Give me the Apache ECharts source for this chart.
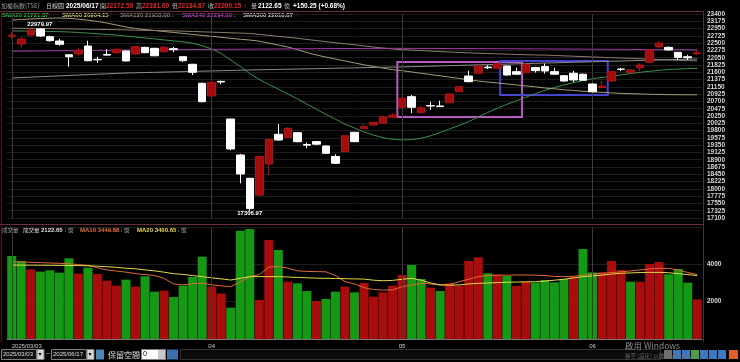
<!DOCTYPE html>
<html><head><meta charset="utf-8">
<script src="https://cdn.jsdelivr.net/npm/echarts@6/dist/echarts.min.js"></script>
<style>html,body{margin:0;padding:0;background:#000;}#c{width:740px;height:362px;}</style>
</head><body><div id="c"></div>
<script>
// ---------- DATA ----------
const dates = [
 '2025/03/03','2025/03/04','2025/03/05','2025/03/06','2025/03/07','2025/03/10','2025/03/11','2025/03/12','2025/03/13','2025/03/14',
 '2025/03/17','2025/03/18','2025/03/19','2025/03/20','2025/03/21','2025/03/24','2025/03/25','2025/03/26','2025/03/27','2025/03/28','2025/03/31',
 '2025/04/01','2025/04/02','2025/04/07','2025/04/08','2025/04/09','2025/04/10','2025/04/11','2025/04/14','2025/04/15','2025/04/16',
 '2025/04/17','2025/04/18','2025/04/21','2025/04/22','2025/04/23','2025/04/24','2025/04/25','2025/04/28','2025/04/29','2025/04/30',
 '2025/05/02','2025/05/05','2025/05/06','2025/05/07','2025/05/08','2025/05/09','2025/05/12','2025/05/13','2025/05/14','2025/05/15',
 '2025/05/16','2025/05/19','2025/05/20','2025/05/21','2025/05/22','2025/05/23','2025/05/26','2025/05/27','2025/05/28','2025/05/29',
 '2025/06/02','2025/06/03','2025/06/04','2025/06/05','2025/06/06','2025/06/09','2025/06/10','2025/06/11','2025/06/12','2025/06/13',
 '2025/06/16','2025/06/17'];
const opens = [22720,22474,22752,22937,22700,22566,22140,22165,22412,22000,22150,22205,22257,22165,22370,22340,22235,22330,22082,21847,21260,
 20868,21320,20157,19046,18326,17808,18768,19685,19593,19735,19370,19460,19324,19000,19148,19747,19860,19972,20025,20210,
 20519,20847,20352,20570,20560,20660,21000,21485,21570,21760,21725,21795,21620,21588,21745,21775,21620,21495,21570,21540,
 21238,21130,21330,21700,21600,21740,21910,22390,22370,22215,22080,22172.59];
const closes = [22745,22628,22906,22721,22576,22464,22081,22288,21958,21985,22130,22310,21949,22390,22205,22110,22370,22300,21958,21600,20692,
 21291,21300,19232,18460,17391,19000,19528,19509,19870,19457,19350,19380,19098,18790,19642,19457,19920,20055,20229,20280,
 20797,20519,20505,20560,20540,20930,21155,21310,21795,21740,21860,21516,21540,21850,21650,21640,21540,21330,21362,21355,
 21000,21170,21620,21690,21670,21825,22290,22500,22290,22060,22049.90,22200.15];
const lows = [22650,22372,22720,22700,22540,22420,21773,22110,21940,21896,22120,22180,21940,22150,22190,22100,22200,22220,21920,21516,20670,
 20850,21230,19190,18172,17306.97,17790,18428,19480,19580,19440,19255,19350,19080,18770,19130,19440,19850,19960,20010,20200,
 20500,20335,20340,20440,20530,20650,20990,21290,21560,21700,21710,21500,21530,21580,21590,21560,21530,21310,21290,21350,
 20980,21100,21320,21640,21560,21640,21900,22350,22270,21980,21980,22134.87];
const highs = [22830,22680,22979.97,22960,22730,22640,22150,22340,22575,22080,22310,22340,22290,22420,22390,22360,22420,22380,22090,21860,21280,
 21300,21340,20160,19080,18340,19010,19540,20003,19900,19760,19430,19470,19340,19068,19660,19760,20000,20070,20240,20330,
 20810,20900,20560,20690,20720,20950,21170,21650,21810,21820,21880,21810,21740,21860,21760,21870,21740,21510,21640,21560,
 21250,21330,21630,21730,21700,21880,22300,22560,22400,22230,22140,22331.69];
const volumes = [4446,4178,3732,3607,3679,3554,4321,3500,3821,3482,3125,2857,3179,2804,3357,2536,2589,2250,2857,3321,4411,
 2804,2429,1679,5802,5893,2089,5304,4768,3071,2982,2571,2036,2143,2536,2804,2500,3000,2268,2500,2857,
 3429,3964,3214,2750,2571,2982,2857,4179,4375,3518,3464,3375,2839,3071,3018,3161,3036,3214,3339,4821,
 3571,3571,4179,3696,3071,3071,4018,4125,3464,3750,3018,2122.65];
// 1 = up day (red volume bar), -1 = down day (green volume bar)
const volDir = [-1,-1,1,-1,-1,-1,-1,1,-1,1,1,1,-1,1,-1,-1,1,-1,-1,-1,-1,
 1,1,-1,-1,-1,1,1,-1,1,-1,-1,1,-1,-1,1,-1,1,1,1,1,
 1,-1,-1,1,-1,1,1,1,1,-1,1,-1,1,1,-1,-1,-1,-1,1,-1,
 -1,1,1,1,-1,1,1,1,-1,-1,-1,1];
const sma20 = [22875,22875,22870,22865,22860,22855,22845,22830,22810,22790,22770,22750,22720,22690,22660,22630,22600,22570,22540,22500,22420,
 22320,22180,21980,21780,21560,21380,21220,21080,20930,20780,20620,20460,20300,20150,20000,19880,19760,19660,19580,19530,
 19510,19520,19560,19640,19740,19850,19960,20080,20220,20360,20490,20610,20720,20830,20940,21040,21130,21210,21280,21340,
 21400,21440,21480,21520,21560,21600,21630,21660,21685,21700,21712,21721.37];
const sma60 = [23215,23230,23245,23260,23270,23276,23265,23240,23210,23170,23120,23060,23000,22950,22920,22890,22860,22830,22800,22770,22740,
 22710,22680,22650,22620,22597,22560,22500,22440,22380,22300,22210,22134,22070,22010,21950,21890,21830,21780,21730,21680,
 21650,21610,21570,21530,21490,21450,21410,21370,21330,21300,21270,21240,21210,21180,21150,21115,21090,21060,21040,21015,
 20995,20980,20965,20950,20940,20930,20920,20915,20910,20907,20905,20904.15];
const sma120 = [22960,22958,22955,22952,22950,22945,22940,22935,22930,22925,22920,22915,22910,22900,22895,22890,22885,22880,22870,22860,22850,
 22840,22830,22820,22810,22800,22770,22740,22710,22680,22650,22615,22580,22545,22510,22480,22450,22415,22380,22350,22320,
 22300,22285,22270,22255,22240,22225,22212,22200,22190,22180,22170,22160,22150,22142,22135,22130,22120,22108,22097,22085,
 22074,22062,22051,22040,22030,22018,22006,21994,21982,21970,21960,21953.88];
const sma240 = [22250,22253,22256,22259,22262,22265,22268,22271,22274,22277,22280,22283,22285,22288,22290,22293,22295,22298,22300,22303,22305,
 22307,22309,22311,22313,22315,22317,22319,22321,22323,22325,22327,22329,22331,22333,22334,22335,22336,22337,22338,22340,
 22339,22338,22337,22336,22335,22334,22333,22332,22331,22330,22329,22327,22326,22324,22323,22321,22320,22318,22317,22315,
 22313,22311,22309,22307,22305,22303,22301,22300,22298,22297,22295,22294.06];
const sma300 = [21424,21437,21450,21463,21476,21489,21502,21515,21527,21540,21552,21565,21578,21585,21592,21599,21606,21613,21620,21628,21635,
 21642,21649,21656,21663,21671,21677,21683,21689,21695,21701,21707,21713,21719,21725,21731,21737,21743,21749,21755,21760,
 21765,21773,21781,21789,21797,21805,21813,21821,21829,21837,21845,21853,21861,21869,21877,21885,21893,21901,21909,21917,
 21925,21933,21941,21949,21957,21965,21973,21981,21989,21997,22004,22010.87];
const volMa10 = [4140,4130,4110,4090,4070,4055,4030,3990,3940,3820,3700,3640,3580,3500,3450,3400,3250,2950,2900,2960,2990,
 2900,2850,2800,3050,3340,3450,3850,3880,3800,3650,3620,3610,3600,3400,3080,2950,2750,2650,2620,2630,
 2800,2890,2980,2950,2890,2920,3070,3200,3340,3400,3420,3420,3430,3430,3420,3400,3350,3340,3360,3420,
 3480,3520,3560,3600,3650,3700,3750,3790,3780,3700,3560,3449.88];
const volMa20 = [3960,3958,3955,3952,3948,3944,3938,3930,3920,3900,3870,3840,3790,3760,3700,3650,3580,3500,3460,3400,3340,
 3280,3220,3160,3250,3340,3340,3340,3340,3320,3300,3280,3260,3250,3240,3230,3220,3210,3150,3120,3140,
 3200,3250,3150,3000,2900,2880,2900,2950,2980,3000,3020,3040,3050,3060,3070,3100,3150,3200,3270,3340,
 3380,3420,3480,3520,3540,3560,3570,3570,3550,3500,3450,3400.65];
const priceMin = 17100, priceMax = 23400, priceStep = 225;
const volMax = 6000, volStep = 2000;
const monthStarts = [0, 21, 41, 61];
// annotation rectangles: [fromIndex, toIndex, lowPrice, highPrice]
const boxMagenta = [40.5, 53.6, 20220, 21920];
const boxBlue = [51.3, 62.6, 20900, 21950];

// ---------- CHART ----------
const chart = echarts.init(document.getElementById('c'), null, {renderer: 'canvas'});
const n = dates.length, last = n - 1;
const candleData = dates.map((d, i) => [opens[i], closes[i], lows[i], highs[i]]);
const volData = volumes.map((v, i) => ({value: v, itemStyle: {color: volDir[i] > 0 ? '#a80c0c' : '#159915'}}));
const FONT = '"Liberation Sans", "DejaVu Sans", sans-serif';
const CJK = '"Noto Sans CJK TC", "Liberation Sans", sans-serif';
const chg = closes[last] - closes[last - 1];
const pct = chg / closes[last - 1] * 100;
const f2 = v => v.toFixed(2);

function textEl(x, y, text, fill, size, weight, font) {
  return {type: 'text', x: x, y: y, silent: true,
    style: {text: text, fill: fill, font: (weight || 'normal') + ' ' + (size || 7) + 'px ' + (font || FONT), textVerticalAlign: 'middle'}};
}
function lineEl(x1, y1, x2, y2, color) {
  return {type: 'line', silent: true, shape: {x1: x1, y1: y1, x2: x2, y2: y2}, style: {stroke: color, lineWidth: 1}};
}
function rectEl(x, y, w, h, fill, stroke) {
  return {type: 'rect', silent: true, shape: {x: x, y: y, width: w, height: h}, style: {fill: fill, stroke: stroke || null, lineWidth: 1}};
}

const red = '#e8242a', green = '#33c040', up = '↑', dn = '↓';
const graphics = [
  lineEl(0, 11.5, 704, 11.5, '#6b2c3c'),
  lineEl(0, 224.5, 704, 224.5, '#6b2c3c'),
  lineEl(1.5, 11, 1.5, 342, '#5c1414'),
  lineEl(703.5, 11, 703.5, 342, '#3a3a3a'),
  // header row 1
  textEl(1, 6, '加權指數(TSE)', '#9a9a9a', 6, 'normal', CJK),
  textEl(46, 6, '日線圖', '#cfcfcf', 6, 'normal', CJK),
  textEl(66, 6, dates[last], '#ffffff', 6.5, 'bold'),
  textEl(100, 6, '開', '#bbbbbb', 6, 'normal', CJK),
  textEl(106, 6, f2(opens[last]), red, 6.5, 'bold'),
  textEl(136, 6, '高', '#bbbbbb', 6, 'normal', CJK),
  textEl(142, 6, f2(highs[last]), red, 6.5, 'bold'),
  textEl(172, 6, '低', '#bbbbbb', 6, 'normal', CJK),
  textEl(178, 6, f2(lows[last]), red, 6.5, 'bold'),
  textEl(208, 6, '收', '#bbbbbb', 6, 'normal', CJK),
  textEl(214, 6, f2(closes[last]), red, 6.5, 'bold'),
  textEl(244, 6, up, red, 6.5, 'bold'),
  textEl(251, 6, '量', '#bbbbbb', 6, 'normal', CJK),
  textEl(258, 6, f2(volumes[last]), '#ffffff', 6.5, 'bold'),
  textEl(284, 6, '億', '#bbbbbb', 6, 'normal', CJK),
  textEl(293, 6, (chg >= 0 ? '+' : '') + f2(chg) + ' (' + (pct >= 0 ? '+' : '') + pct.toFixed(2) + '%)', '#ffffff', 6.5, 'bold'),
  // header row 2 (moving averages)
  textEl(2, 15.5, 'SMA20 ' + f2(sma20[last]), green, 6, 'bold'),
  textEl(48, 15.5, up, red, 6, 'bold'),
  textEl(62, 15.5, 'SMA60 ' + f2(sma60[last]), '#e2d878', 6, 'bold'),
  textEl(109, 15.5, up, red, 6, 'bold'),
  textEl(120, 15.5, 'SMA120 ' + f2(sma120[last]), '#a88c7c', 6, 'bold'),
  textEl(171, 15.5, dn, green, 6, 'bold'),
  textEl(182, 15.5, 'SMA240 ' + f2(sma240[last]), '#d642d6', 6, 'bold'),
  textEl(233, 15.5, dn, green, 6, 'bold'),
  textEl(243, 15.5, 'SMA300 ' + f2(sma300[last]), '#d0d0d0', 6, 'bold'),
  textEl(295, 15.5, up, red, 6, 'bold'),
  // volume header
  textEl(2, 230, '成交量', '#a0a0a0', 5.5, 'normal', CJK),
  textEl(23, 230, '成交量', '#dddddd', 5.5, 'normal', CJK),
  textEl(41, 230, f2(volumes[last]), '#e0e0e0', 6, 'bold'),
  textEl(64, 230, dn, green, 6, 'bold'),
  textEl(68, 230, '億', '#aaaaaa', 5.5, 'normal', CJK),
  textEl(80, 230, 'MA10 ' + f2(volMa10[last]), '#e86e36', 6, 'bold'),
  textEl(120, 230, dn, green, 6, 'bold'),
  textEl(124, 230, '億', '#aaaaaa', 5.5, 'normal', CJK),
  textEl(137, 230, 'MA20 ' + f2(volMa20[last]), '#ecdc4c', 6, 'bold'),
  textEl(177, 230, dn, green, 6, 'bold'),
  textEl(181, 230, '億', '#aaaaaa', 5.5, 'normal', CJK),
  // bottom toolbar
  rectEl(1.5, 349.5, 35, 10, '#101010', '#808080'),
  textEl(3, 354.5, dates[0], '#dddddd', 6),
  rectEl(37, 349.5, 7, 10, '#d8d8d8', '#808080'),
  textEl(38.5, 354.5, '▾', '#000000', 6),
  textEl(46, 354.5, '~', '#cccccc', 7),
  rectEl(51.5, 349.5, 35, 10, '#101010', '#808080'),
  textEl(53, 354.5, dates[last], '#dddddd', 6),
  rectEl(87, 349.5, 7, 10, '#d8d8d8', '#808080'),
  textEl(88.5, 354.5, '▾', '#000000', 6),
  rectEl(96, 349.5, 8, 10, '#4f86b5', null),
  textEl(108, 354.5, '保留空間', '#e0e0e0', 8, 'normal', CJK),
  rectEl(141.5, 349.5, 24, 10, '#ffffff', '#808080'),
  textEl(143, 354.5, '0', '#000000', 7),
  rectEl(158, 350, 7, 9, '#c8c8c8', null),
  rectEl(167, 349.5, 11, 10, '#3e6fa8', null),
  rectEl(180.5, 349.5, 480, 10, '#0a0a0a', '#333333'),
  rectEl(664, 350, 8, 9, '#707070', null),
  rectEl(673, 350, 8, 9, '#3a78c0', null),
  rectEl(682, 350, 8, 9, '#3a78c0', null),
  rectEl(691, 350, 8, 9, '#4aa04a', null),
  rectEl(700, 350, 8, 9, '#3a78c0', null),
  rectEl(709, 350, 8, 9, '#3a78c0', null),
  rectEl(718, 350, 8, 9, '#3a78c0', null),
  rectEl(729, 350, 9, 9, '#e0602a', null),
  textEl(625, 346, '啟用 Windows', '#8a8a8a', 8.5, 'normal', CJK),
  textEl(625, 355.5, '移至 [設定] 以啟用 Windows。', '#6a6a6a', 5.5, 'normal', CJK)
];

const monthLine = (color) => ({
  silent: true, symbol: ['none', 'none'], animation: false,
  label: {show: false}, lineStyle: {color: color, width: 1, type: 'solid'},
  data: monthStarts.map(i => ({xAxis: i}))
});
const maLine = (name, data, color) => ({
  name: name, type: 'line', data: data, xAxisIndex: 0, yAxisIndex: 0, symbol: 'none',
  lineStyle: {color: color, width: 1}, silent: true, animation: false, z: 3
});
const boxArea = (b, color) => ({
  name: 'box', type: 'line', xAxisIndex: 2, yAxisIndex: 0, data: [], symbol: 'none', silent: true, animation: false,
  markArea: {silent: true, itemStyle: {color: 'rgba(0,0,0,0)', borderColor: color, borderWidth: 2},
    data: [[{coord: [b[0], b[3]]}, {coord: [b[1], b[2]]}]]}
});

const option = {
  backgroundColor: '#000000',
  animation: false,
  grid: [
    {left: 7, right: 38, top: 14, height: 204, containLabel: false, outerBoundsMode: 'none'},
    {left: 7, right: 38, top: 227, height: 112, containLabel: false, outerBoundsMode: 'none'}
  ],
  xAxis: [
    {type: 'category', gridIndex: 0, data: dates, boundaryGap: true,
      axisLine: {show: false}, axisTick: {show: false}, axisLabel: {show: false}, splitLine: {show: false}},
    {type: 'category', gridIndex: 1, data: dates, boundaryGap: true,
      axisLine: {show: true, lineStyle: {color: '#777777'}}, axisTick: {show: false}, splitLine: {show: false},
      axisLabel: {show: true, color: '#cccccc', fontSize: 6, fontFamily: FONT, margin: 4, alignMinLabel: 'left',
        interval: (idx) => monthStarts.indexOf(idx) >= 0,
        formatter: (val, idx) => idx === 0 ? val : val.slice(5, 7)}},
    {type: 'value', gridIndex: 0, min: -0.5, max: n - 0.5, show: false}
  ],
  yAxis: [
    {type: 'value', gridIndex: 0, position: 'right', min: priceMin, max: priceMax, interval: priceStep,
      axisLine: {show: false}, axisTick: {show: false},
      axisLabel: {color: '#d8d8d8', fontSize: 6.5, fontFamily: FONT, fontWeight: 'bold', margin: 5, showMinLabel: true, showMaxLabel: true,
        formatter: v => String(v)},
      splitLine: {show: true, lineStyle: {color: '#1e1e1e', width: 1}}},
    {type: 'value', gridIndex: 1, position: 'right', min: 0, max: volMax, interval: volStep,
      axisLine: {show: false}, axisTick: {show: false},
      axisLabel: {color: '#d8d8d8', fontSize: 6.5, fontFamily: FONT, fontWeight: 'bold', margin: 5,
        formatter: v => (v > 0 && v < volMax) ? String(v) : ''},
      splitLine: {show: true, lineStyle: {color: '#1e1e1e', width: 1}}}
  ],
  series: [
    {name: 'K', type: 'candlestick', xAxisIndex: 0, yAxisIndex: 0, data: candleData, barWidth: 8, z: 5,
      itemStyle: {color: '#a30d0d', color0: '#ffffff', borderColor: '#b01515', borderColor0: '#ffffff', borderWidth: 1},
      markLine: monthLine('#3c3c3c'),
      markPoint: {symbol: 'circle', symbolSize: 0, animation: false, silent: true,
        label: {show: true, color: '#ffffff', fontSize: 6, fontFamily: FONT, fontWeight: 'bold'},
        data: [
          {type: 'max', valueDim: 'highest', label: {position: 'top', distance: 1, offset: [9, 1], formatter: p => f2(p.value)}},
          {type: 'min', valueDim: 'lowest', label: {position: 'bottom', distance: 0, offset: [0, -1], formatter: p => f2(p.value)}}
        ]}},
    maLine('SMA20', sma20, '#3f8f4c'),
    maLine('SMA60', sma60, '#a49c78'),
    maLine('SMA120', sma120, '#8c7e6c'),
    maLine('SMA240', sma240, '#a23aa8'),
    maLine('SMA300', sma300, '#8e8e8e'),
    boxArea(boxMagenta, '#b45cc0'),
    boxArea(boxBlue, '#4444cc'),
    {name: 'Vol', type: 'bar', xAxisIndex: 1, yAxisIndex: 1, data: volData, barWidth: 9, silent: true,
      markLine: monthLine('#3c3c3c')},
    {name: 'MA10', type: 'line', xAxisIndex: 1, yAxisIndex: 1, data: volMa10, symbol: 'none', silent: true,
      lineStyle: {color: '#e06a34', width: 1}, z: 4},
    {name: 'MA20', type: 'line', xAxisIndex: 1, yAxisIndex: 1, data: volMa20, symbol: 'none', silent: true,
      lineStyle: {color: '#e6d84a', width: 1}, z: 4}
  ],
  graphic: graphics
};
chart.setOption(option);
</script>
</body></html>
